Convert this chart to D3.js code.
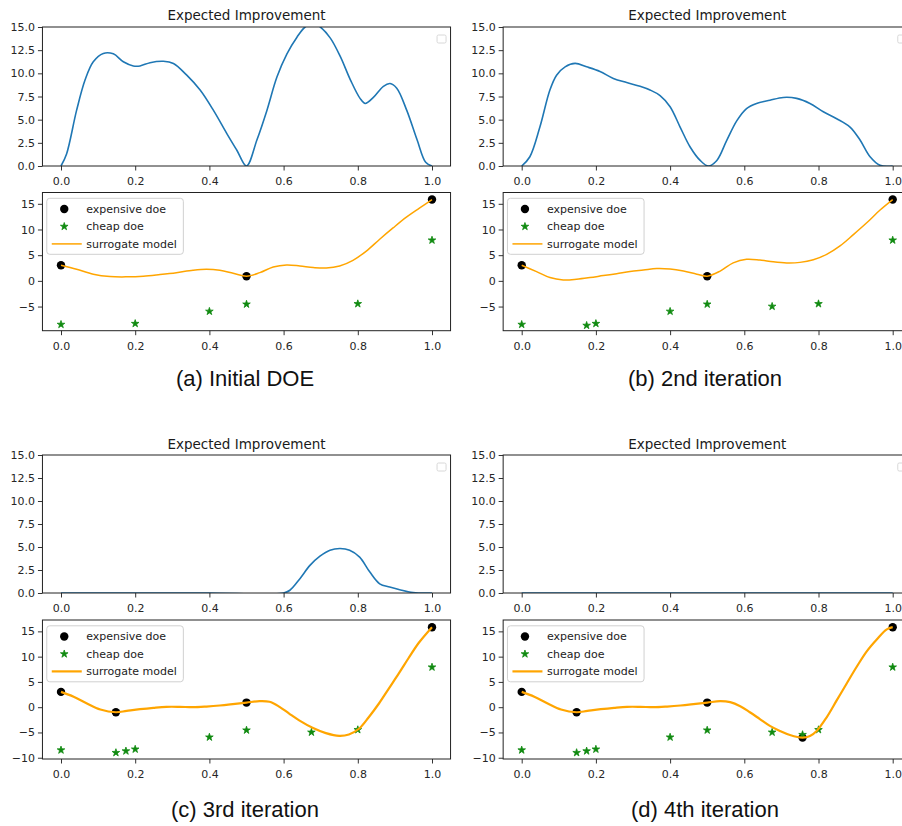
<!DOCTYPE html>
<html><head><meta charset="utf-8">
<script src="https://cdn.jsdelivr.net/npm/d3@7"></script>
<style>body{margin:0;background:#fff;overflow:hidden} svg{display:block}</style>
</head><body><svg id="c" width="902" height="826"></svg>
<script>
// ---------- data ----------
const xTicks = [0, 0.2, 0.4, 0.6, 0.8, 1.0];
const eiTicks = [0, 2.5, 5, 7.5, 10, 12.5, 15];
const modelTicksTop = [-5, 0, 5, 10, 15];
const modelTicksBottom = [-10, -5, 0, 5, 10, 15];
const eiTitle = "Expected Improvement";
const legendLabels = ["expensive doe", "cheap doe", "surrogate model"];
const captions = ["(a) Initial DOE", "(b) 2nd iteration", "(c) 3rd iteration", "(d) 4th iteration"];

// Expected improvement curves
const eiX_a = [0, 0.015, 0.042, 0.065, 0.087, 0.114, 0.141, 0.168, 0.195, 0.213, 0.24, 0.276, 0.303, 0.339, 0.375, 0.411, 0.447, 0.474, 0.5, 0.528, 0.555, 0.582, 0.609, 0.636, 0.658, 0.68, 0.699, 0.726, 0.753, 0.78, 0.806, 0.82, 0.842, 0.869, 0.887, 0.905, 0.932, 0.96, 0.983, 1.0];
const eiY_a = [0, 1.3, 6.0, 9.3, 11.25, 12.15, 12.1, 11.25, 10.8, 10.8, 11.15, 11.3, 11.07, 9.8, 8.2, 6.0, 3.5, 1.7, 0, 2.8, 6.0, 9.6, 12.1, 13.9, 15.0, 15.4, 15.0, 13.8, 11.8, 9.3, 7.3, 6.75, 7.4, 8.6, 8.9, 8.4, 6.0, 2.8, 0.4, 0];
const eiX_b = [0, 0.022, 0.049, 0.076, 0.094, 0.117, 0.144, 0.175, 0.211, 0.247, 0.283, 0.319, 0.346, 0.373, 0.4, 0.427, 0.454, 0.481, 0.503, 0.526, 0.553, 0.58, 0.606, 0.633, 0.669, 0.705, 0.741, 0.777, 0.813, 0.849, 0.885, 0.912, 0.939, 0.966, 1.0];
const eiY_b = [0, 1.0, 4.2, 8.2, 9.8, 10.7, 11.07, 10.7, 10.2, 9.45, 9.0, 8.6, 8.2, 7.6, 6.4, 4.2, 2.05, 0.6, 0, 0.6, 2.8, 4.9, 6.2, 6.75, 7.1, 7.4, 7.3, 6.75, 5.85, 5.1, 4.2, 2.8, 1.0, 0.07, 0];
const eiX_c = [0, 0.2, 0.4, 0.6, 0.617, 0.644, 0.671, 0.698, 0.725, 0.752, 0.778, 0.805, 0.832, 0.859, 0.886, 0.913, 0.949, 1.0];
const eiY_c = [0, 0, 0, 0, 0.3, 1.56, 3.0, 4.0, 4.65, 4.83, 4.65, 3.9, 2.3, 1.0, 0.65, 0.35, 0.05, 0];
const eiX_d = [0, 0.2, 0.4, 0.6, 0.8, 1.0];
const eiY_d = [0, 0, 0, 0, 0, 0];

// expensive doe points
const expX_ab = [0, 0.5, 1.0];
const expY_ab = [3.03, 0.91, 15.83];
const expX_c = [0, 0.148, 0.5, 1.0];
const expY_c = [3.03, -1.0, 0.91, 15.83];
const expX_d = [0, 0.148, 0.5, 0.757, 1.0];
const expY_d = [3.03, -1.0, 0.91, -6.02, 15.83];

// cheap doe points
const cheapX_a = [0, 0.2, 0.4, 0.5, 0.8, 1.0];
const cheapY_a = [-8.49, -8.32, -5.94, -4.55, -4.47, 7.92];
const cheapX_b = [0, 0.175, 0.2, 0.4, 0.5, 0.675, 0.8, 1.0];
const cheapY_b = [-8.49, -8.68, -8.32, -5.94, -4.55, -4.97, -4.47, 7.92];
const cheapX_c = [0, 0.148, 0.175, 0.2, 0.4, 0.5, 0.675, 0.8, 1.0];
const cheapY_c = [-8.49, -9.0, -8.68, -8.32, -5.94, -4.55, -4.97, -4.47, 7.92];
const cheapX_d = [0, 0.148, 0.175, 0.2, 0.4, 0.5, 0.675, 0.757, 0.8, 1.0];
const cheapY_d = [-8.49, -9.0, -8.68, -8.32, -5.94, -4.55, -4.97, -5.44, -4.47, 7.92];

// surrogate model curves
const surX_a = [0, 0.042, 0.087, 0.132, 0.177, 0.222, 0.267, 0.311, 0.356, 0.392, 0.428, 0.464, 0.5, 0.536, 0.572, 0.608, 0.644, 0.68, 0.715, 0.751, 0.787, 0.823, 0.859, 0.895, 0.931, 0.967, 1.0];
const surY_a = [3.03, 2.26, 1.3, 0.84, 0.78, 0.9, 1.23, 1.6, 2.07, 2.26, 2.07, 1.5, 0.91, 1.6, 2.7, 3.1, 2.9, 2.6, 2.5, 2.9, 4.0, 5.8, 8.1, 10.3, 12.4, 14.2, 15.83];
const surX_b = [0, 0.04, 0.076, 0.112, 0.148, 0.184, 0.22, 0.256, 0.292, 0.328, 0.364, 0.4, 0.436, 0.472, 0.5, 0.535, 0.57, 0.606, 0.642, 0.678, 0.714, 0.75, 0.786, 0.822, 0.858, 0.894, 0.93, 0.966, 1.0];
const surY_b = [3.03, 1.8, 0.64, 0.19, 0.32, 0.64, 1.03, 1.4, 1.8, 2.1, 2.4, 2.3, 1.9, 1.3, 0.91, 1.9, 3.5, 4.2, 4.05, 3.7, 3.5, 3.6, 4.1, 5.15, 6.8, 9.0, 11.3, 13.8, 15.83];
const surX_c = [0, 0.034, 0.07, 0.106, 0.148, 0.177, 0.213, 0.249, 0.284, 0.32, 0.356, 0.392, 0.428, 0.463, 0.5, 0.535, 0.562, 0.589, 0.615, 0.642, 0.678, 0.714, 0.75, 0.776, 0.803, 0.83, 0.857, 0.884, 0.911, 0.937, 0.964, 1.0];
const surY_c = [3.03, 2.07, 0.73, -0.47, -1.0, -0.73, -0.4, -0.13, 0.07, 0.07, 0.0, 0.13, 0.33, 0.6, 0.91, 1.2, 1.07, 0.07, -1.27, -2.6, -4.07, -5.13, -5.67, -5.4, -4.27, -1.93, 0.73, 3.73, 6.73, 9.73, 12.7, 15.83];
const surX_d = [0, 0.034, 0.07, 0.106, 0.148, 0.177, 0.213, 0.249, 0.284, 0.32, 0.356, 0.392, 0.428, 0.463, 0.5, 0.535, 0.562, 0.589, 0.615, 0.642, 0.669, 0.696, 0.723, 0.757, 0.777, 0.795, 0.822, 0.849, 0.876, 0.903, 0.93, 0.957, 0.984, 1.0];
const surY_d = [3.03, 2.07, 0.73, -0.47, -1.0, -0.73, -0.4, -0.13, 0.07, 0.07, 0.0, 0.13, 0.33, 0.6, 0.91, 1.2, 1.0, 0.2, -1.0, -2.35, -3.7, -4.7, -5.5, -6.02, -5.7, -4.7, -2.0, 1.34, 4.7, 8.0, 11.05, 13.4, 15.4, 15.83];

// ---------- layout ----------
const svg = d3.select("#c");
const FONT = "'DejaVu Sans', sans-serif";
const cols = [{x0: 42.45, x1: 450.55}, {x0: 503.15, x1: 911.25}];
const rows = [
  {ei: {y0: 27, y1: 166}, mod: {y0: 192.5, y1: 330.7}, ylim: [-9.7, 17.2], ticks: modelTicksTop, cap: 386, title: 20},
  {ei: {y0: 455, y1: 593}, mod: {y0: 620, y1: 759}, ylim: [-10.25, 17.25], ticks: modelTicksBottom, cap: 817, title: 449}
];
const capX = [245, 705];
const BLUE = "#1f77b4", ORANGE = "#ffa500", GREEN = "#108a10";

const zip = (xs, ys) => xs.map((x, i) => [x, ys[i]]);
const fmtMinus = d => (d < 0 ? "\u2212" + Math.abs(d) : String(d));
const smooth = d3.curveCatmullRom.alpha(0.5);

let clipId = 0;
function frame(g, x, y, yTicks, yFmt) {
  const [x0, x1] = x.range();
  const [y1, y0] = y.range();
  const ax = g.append("g").attr("transform", `translate(0,${y1})`)
    .call(d3.axisBottom(x).tickValues(xTicks).tickFormat(d3.format(".1f")).tickSize(4.5).tickPadding(7));
  const ay = g.append("g").attr("transform", `translate(${x0},0)`)
    .call(d3.axisLeft(y).tickValues(yTicks).tickFormat(yFmt).tickSize(4.5).tickPadding(3));
  [ax, ay].forEach(a => {
    a.select(".domain").remove();
    a.selectAll("text").attr("font-family", FONT).attr("font-size", 11).attr("fill", "#262626");
    a.selectAll("line").attr("stroke", "#333");
  });
  const id = "clip" + (clipId++);
  g.append("clipPath").attr("id", id).append("rect")
    .attr("x", x0).attr("y", y0).attr("width", x1 - x0).attr("height", y1 - y0);
  return id;
}
function spines(g, x, y) {
  const [x0, x1] = x.range();
  const [y1, y0] = y.range();
  g.append("rect").attr("x", x0).attr("y", y0).attr("width", x1 - x0).attr("height", y1 - y0)
    .attr("fill", "none").attr("stroke", "#222").attr("stroke-width", 1);
}

function drawEI(col, row, xs, ys) {
  const c = cols[col], r = rows[row];
  const g = svg.append("g");
  const x = d3.scaleLinear().domain([-0.05, 1.05]).range([c.x0, c.x1]);
  const y = d3.scaleLinear().domain([0, 15]).range([r.ei.y1, r.ei.y0]);
  const id = frame(g, x, y, eiTicks, d3.format(".1f"));
  g.append("path").datum(zip(xs, ys)).attr("clip-path", `url(#${id})`)
    .attr("d", d3.line().x(d => x(d[0])).y(d => y(d[1])).curve(smooth))
    .attr("fill", "none").attr("stroke", BLUE).attr("stroke-width", 1.6);
  spines(g, x, y);
  // empty legend box
  g.append("rect").attr("x", c.x1 - 13.5).attr("y", r.ei.y0 + 8).attr("width", 9).attr("height", 8)
    .attr("rx", 1.5).attr("fill", "#fff").attr("stroke", "#d8d8d8").attr("stroke-width", 1);
  g.append("text").attr("x", (c.x0 + c.x1) / 2).attr("y", r.title).attr("text-anchor", "middle")
    .attr("font-family", FONT).attr("font-size", 13.5).attr("fill", "#1a1a1a").text(eiTitle);
}

const star = d3.symbol().type(d3.symbolStar).size(18);

function drawModel(col, row, ex, ey, cx, cy, sx, sy, lw, capIdx) {
  const c = cols[col], r = rows[row];
  const g = svg.append("g");
  const x = d3.scaleLinear().domain([-0.05, 1.05]).range([c.x0, c.x1]);
  const y = d3.scaleLinear().domain(r.ylim).range([r.mod.y1, r.mod.y0]);
  const id = frame(g, x, y, r.ticks, fmtMinus);
  const pg = g.append("g").attr("clip-path", `url(#${id})`);
  pg.selectAll("circle.exp").data(zip(ex, ey)).join("circle").attr("class", "exp")
    .attr("cx", d => x(d[0])).attr("cy", d => y(d[1])).attr("r", 4.2).attr("fill", "#000");
  pg.selectAll("path.cheap").data(zip(cx, cy)).join("path").attr("class", "cheap")
    .attr("d", star).attr("transform", d => `translate(${x(d[0])},${y(d[1])})`)
    .attr("fill", GREEN).attr("stroke", GREEN).attr("stroke-width", 0.8).attr("stroke-linejoin", "round");
  pg.append("path").datum(zip(sx, sy))
    .attr("d", d3.line().x(d => x(d[0])).y(d => y(d[1])).curve(smooth))
    .attr("fill", "none").attr("stroke", ORANGE).attr("stroke-width", lw);
  spines(g, x, y);
  // legend
  const bx = c.x0 + 4.3, by = r.mod.y0 + 5.8;
  const lg = g.append("g");
  lg.append("rect").attr("x", bx).attr("y", by).attr("width", 136.6).attr("height", 56)
    .attr("rx", 3).attr("fill", "#fff").attr("fill-opacity", 0.85).attr("stroke", "#d0d0d0").attr("stroke-width", 1);
  const rowsY = [10.7, 28.2, 45.6];
  lg.append("circle").attr("cx", bx + 17.5).attr("cy", by + rowsY[0]).attr("r", 4.2).attr("fill", "#000");
  lg.append("path").attr("d", star).attr("transform", `translate(${bx + 17.5},${by + rowsY[1]})`)
    .attr("fill", GREEN).attr("stroke", GREEN).attr("stroke-width", 0.8).attr("stroke-linejoin", "round");
  lg.append("line").attr("x1", bx + 5).attr("x2", bx + 35).attr("y1", by + rowsY[2]).attr("y2", by + rowsY[2])
    .attr("stroke", ORANGE).attr("stroke-width", lw);
  legendLabels.forEach((t, i) => {
    lg.append("text").attr("x", bx + 39.5).attr("y", by + rowsY[i]).attr("dy", "0.35em")
      .attr("font-family", FONT).attr("font-size", 11).attr("fill", "#222").text(t);
  });
  // caption
  svg.append("text").attr("x", capX[col]).attr("y", r.cap).attr("text-anchor", "middle")
    .attr("font-family", "'Liberation Sans', Arial, sans-serif").attr("font-size", 22).attr("fill", "#111")
    .text(captions[capIdx]);
}

drawEI(0, 0, eiX_a, eiY_a);
drawEI(1, 0, eiX_b, eiY_b);
drawEI(0, 1, eiX_c, eiY_c);
drawEI(1, 1, eiX_d, eiY_d);
drawModel(0, 0, expX_ab, expY_ab, cheapX_a, cheapY_a, surX_a, surY_a, 1.5, 0);
drawModel(1, 0, expX_ab, expY_ab, cheapX_b, cheapY_b, surX_b, surY_b, 1.5, 1);
drawModel(0, 1, expX_c, expY_c, cheapX_c, cheapY_c, surX_c, surY_c, 2.2, 2);
drawModel(1, 1, expX_d, expY_d, cheapX_d, cheapY_d, surX_d, surY_d, 2.2, 3);
</script></body></html>
